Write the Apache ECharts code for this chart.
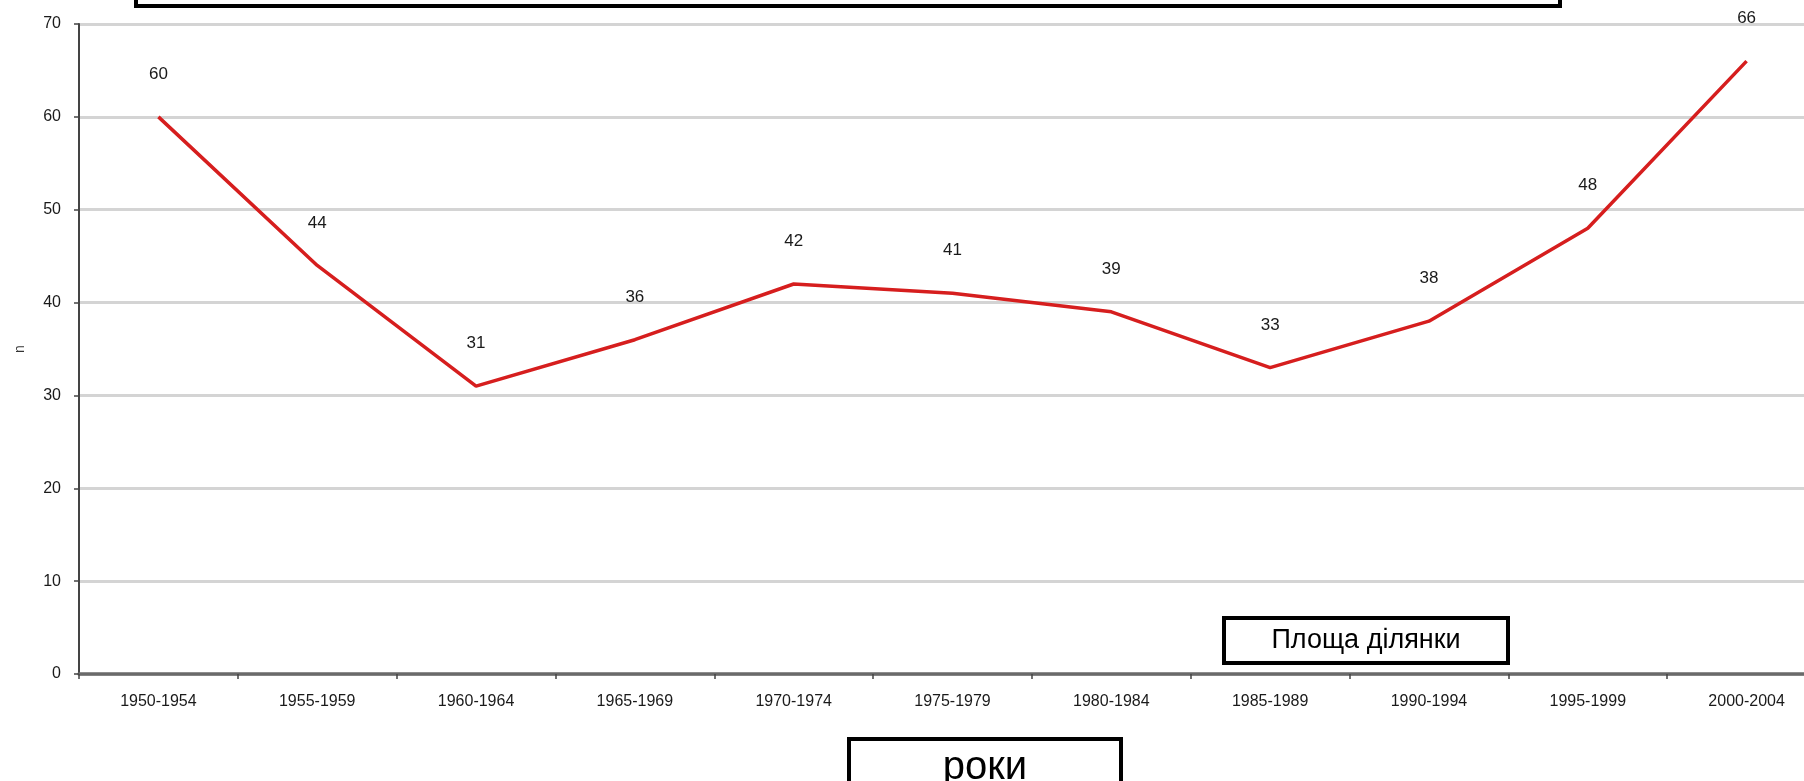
<!DOCTYPE html>
<html>
<head>
<meta charset="utf-8">
<script src="https://cdn.jsdelivr.net/npm/echarts@6/dist/echarts.min.js"></script>
<style>
html,body{margin:0;padding:0;background:#fff;overflow:hidden;width:1804px;height:781px;}
#chart{width:1830px;height:781px;}
</style>
</head>
<body>
<div id="chart"></div>
<script>
const categories = ["1950-1954","1955-1959","1960-1964","1965-1969","1970-1974","1975-1979","1980-1984","1985-1989","1990-1994","1995-1999","2000-2004"];
const values = [60, 44, 31, 36, 42, 41, 39, 33, 38, 48, 66];
const yTicks = [0, 10, 20, 30, 40, 50, 60, 70];
const yAxisName = "n";
const legendText = "Площа ділянки";
const xAxisTitle = "роки";

const chart = echarts.init(document.getElementById('chart'), null, {renderer: 'canvas'});
const font = 'Liberation Sans, Arial, sans-serif';
chart.setOption({
  animation: false,
  backgroundColor: '#ffffff',
  grid: {left: 79, top: 24, right: 4, bottom: 107, containLabel: false},
  xAxis: {
    type: 'category',
    data: categories,
    boundaryGap: true,
    axisLine: {lineStyle: {color: '#6a6a6a', width: 3.5}},
    axisTick: {show: true, length: 5, lineStyle: {color: '#444', width: 1.5}},
    axisLabel: {color: '#1a1a1a', fontSize: 16, fontFamily: font, margin: 20},
    splitLine: {show: false}
  },
  yAxis: {
    type: 'value',
    min: yTicks[0],
    max: yTicks[yTicks.length - 1],
    interval: 10,
    name: yAxisName,
    nameLocation: 'middle',
    nameGap: 52,
    nameTextStyle: {color: '#333', fontSize: 14, fontFamily: font},
    axisLine: {show: true, lineStyle: {color: '#444', width: 2}},
    axisTick: {show: true, length: 5, lineStyle: {color: '#444', width: 1.5}},
    axisLabel: {color: '#1a1a1a', fontSize: 16, fontFamily: font, margin: 18},
    splitLine: {show: true, lineStyle: {color: '#d4d4d4', width: 3}}
  },
  series: [{
    type: 'line',
    data: values,
    symbol: 'circle',
    symbolSize: 0.1,
    showSymbol: true,
    itemStyle: {color: '#d61e1e'},
    lineStyle: {color: '#d61e1e', width: 3.5},
    label: {show: true, position: 'top', distance: 34, color: '#1a1a1a', fontSize: 17, fontFamily: font},
    z: 5
  }],
  graphic: [
    {type: 'rect', shape: {x: 136, y: -60, width: 1424, height: 66}, style: {fill: '#fff', stroke: '#000', lineWidth: 4}, z: 100},
    {type: 'rect', shape: {x: 1224, y: 618, width: 284, height: 45}, style: {fill: '#fff', stroke: '#000', lineWidth: 4}, z: 100},
    {type: 'text', x: 1366, y: 641, style: {text: legendText, fill: '#000', font: '27px ' + font, align: 'center', verticalAlign: 'middle'}, z: 101},
    {type: 'rect', shape: {x: 849, y: 739, width: 272, height: 80}, style: {fill: '#fff', stroke: '#000', lineWidth: 4}, z: 100},
    {type: 'text', x: 985, y: 768, style: {text: xAxisTitle, fill: '#000', font: '40px ' + font, align: 'center', verticalAlign: 'middle'}, z: 101}
  ]
});
</script>
</body>
</html>
